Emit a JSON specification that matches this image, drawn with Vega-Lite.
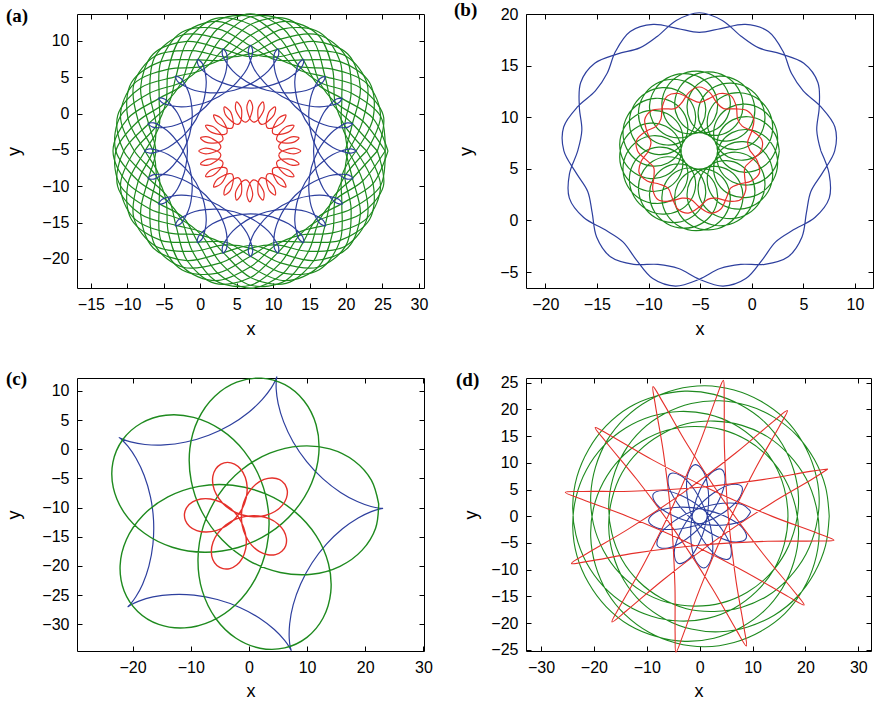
{
  "$schema": "https://vega.github.io/schema/vega-lite/v6.json",
  "padding": {"left": 5, "top": 0, "right": 0, "bottom": 0},
  "background": "white",
  "config": {
    "view": {"stroke": "black", "strokeWidth": 1},
    "axis": {"grid": false, "domain": false, "ticks": true, "tickColor": "black", "tickSize": 5, "tickWidth": 1, "offset": -5,
      "labelFont": "Liberation Sans Narrow, Liberation Sans, sans-serif", "labelFontSize": 16, "labelColor": "black", "labelPadding": 8, "labelFlush": false, "labelOverlap": false,
      "titleFont": "Liberation Sans", "titleFontSize": 18, "titleFontWeight": "normal", "titleColor": "black", "titleBaseline": "alphabetic"},
    "line": {"strokeWidth": 1.2, "interpolate": "catmull-rom", "clip": true},
    "title": {"font": "Liberation Serif", "fontSize": 19, "fontWeight": "bold", "anchor": "start", "frame": "group", "color": "black", "offset": 0, "baseline": "alphabetic"}
  },
  "datasets": {
    "ag": [{"c":0,"x":25.76,"y":-5.15},{"c":0,"x":23.71,"y":-0.65},{"c":0,"x":19.43,"y":2.09},{"c":0,"x":16.09,"y":4.04},{"c":0,"x":14.14,"y":7.38},{"c":0,"x":11.4,"y":11.66},{"c":0,"x":6.9,"y":13.71},{"c":0,"x":2.4,"y":11.66},{"c":0,"x":-0.34,"y":7.38},{"c":0,"x":-2.29,"y":4.04},{"c":0,"x":-5.63,"y":2.09},{"c":0,"x":-9.91,"y":-0.65},{"c":0,"x":-11.96,"y":-5.15},{"c":0,"x":-9.91,"y":-9.65},{"c":0,"x":-5.63,"y":-12.39},{"c":0,"x":-2.29,"y":-14.34},{"c":0,"x":-0.34,"y":-17.68},{"c":0,"x":2.4,"y":-21.96},{"c":0,"x":6.9,"y":-24.01},{"c":0,"x":11.4,"y":-21.96},{"c":0,"x":14.14,"y":-17.68},{"c":0,"x":16.09,"y":-14.34},{"c":0,"x":19.43,"y":-12.39},{"c":0,"x":23.71,"y":-9.65},{"c":0,"x":25.76,"y":-5.15},
      {"c":1,"x":24.3,"y":-5.15},{"c":1,"x":20.88,"y":-1.4},{"c":1,"x":18.16,"y":1.35},{"c":1,"x":17.13,"y":5.08},{"c":1,"x":15.6,"y":9.92},{"c":1,"x":11.78,"y":13.07},{"c":1,"x":6.9,"y":12.25},{"c":1,"x":3.16,"y":8.83},{"c":1,"x":0.4,"y":6.11},{"c":1,"x":-3.33,"y":5.08},{"c":1,"x":-8.17,"y":3.55},{"c":1,"x":-11.32,"y":-0.27},{"c":1,"x":-10.5,"y":-5.15},{"c":1,"x":-7.08,"y":-8.9},{"c":1,"x":-4.36,"y":-11.65},{"c":1,"x":-3.33,"y":-15.38},{"c":1,"x":-1.8,"y":-20.22},{"c":1,"x":2.02,"y":-23.37},{"c":1,"x":6.9,"y":-22.55},{"c":1,"x":10.65,"y":-19.13},{"c":1,"x":13.4,"y":-16.41},{"c":1,"x":17.13,"y":-15.38},{"c":1,"x":21.97,"y":-13.85},{"c":1,"x":25.12,"y":-10.03},{"c":1,"x":24.3,"y":-5.15},
      {"c":2,"x":21.37,"y":-5.15},{"c":2,"x":19.46,"y":-1.79},{"c":2,"x":19.43,"y":2.09},{"c":2,"x":19.2,"y":7.15},{"c":2,"x":16.33,"y":11.18},{"c":2,"x":11.4,"y":11.66},{"c":2,"x":6.9,"y":9.32},{"c":2,"x":3.54,"y":7.41},{"c":2,"x":-0.34,"y":7.38},{"c":2,"x":-5.4,"y":7.15},{"c":2,"x":-9.43,"y":4.28},{"c":2,"x":-9.91,"y":-0.65},{"c":2,"x":-7.57,"y":-5.15},{"c":2,"x":-5.66,"y":-8.51},{"c":2,"x":-5.63,"y":-12.39},{"c":2,"x":-5.4,"y":-17.45},{"c":2,"x":-2.53,"y":-21.48},{"c":2,"x":2.4,"y":-21.96},{"c":2,"x":6.9,"y":-19.62},{"c":2,"x":10.26,"y":-17.71},{"c":2,"x":14.14,"y":-17.68},{"c":2,"x":19.2,"y":-17.45},{"c":2,"x":23.23,"y":-14.58},{"c":2,"x":23.71,"y":-9.65},{"c":2,"x":21.37,"y":-5.15},
      {"c":3,"x":19.9,"y":-5.15},{"c":3,"x":20.88,"y":-1.4},{"c":3,"x":21.97,"y":3.55},{"c":3,"x":20.24,"y":8.19},{"c":3,"x":15.6,"y":9.92},{"c":3,"x":10.65,"y":8.83},{"c":3,"x":6.9,"y":7.85},{"c":3,"x":3.16,"y":8.83},{"c":3,"x":-1.8,"y":9.92},{"c":3,"x":-6.44,"y":8.19},{"c":3,"x":-8.17,"y":3.55},{"c":3,"x":-7.08,"y":-1.4},{"c":3,"x":-6.1,"y":-5.15},{"c":3,"x":-7.08,"y":-8.9},{"c":3,"x":-8.17,"y":-13.85},{"c":3,"x":-6.44,"y":-18.49},{"c":3,"x":-1.8,"y":-20.22},{"c":3,"x":3.16,"y":-19.13},{"c":3,"x":6.9,"y":-18.15},{"c":3,"x":10.65,"y":-19.13},{"c":3,"x":15.6,"y":-20.22},{"c":3,"x":20.24,"y":-18.49},{"c":3,"x":21.97,"y":-13.85},{"c":3,"x":20.88,"y":-8.9},{"c":3,"x":19.9,"y":-5.15},
      {"c":4,"x":21.37,"y":-5.15},{"c":4,"x":23.71,"y":-0.65},{"c":4,"x":23.23,"y":4.28},{"c":4,"x":19.2,"y":7.15},{"c":4,"x":14.14,"y":7.38},{"c":4,"x":10.26,"y":7.41},{"c":4,"x":6.9,"y":9.32},{"c":4,"x":2.4,"y":11.66},{"c":4,"x":-2.53,"y":11.18},{"c":4,"x":-5.4,"y":7.15},{"c":4,"x":-5.63,"y":2.09},{"c":4,"x":-5.66,"y":-1.79},{"c":4,"x":-7.57,"y":-5.15},{"c":4,"x":-9.91,"y":-9.65},{"c":4,"x":-9.43,"y":-14.58},{"c":4,"x":-5.4,"y":-17.45},{"c":4,"x":-0.34,"y":-17.68},{"c":4,"x":3.54,"y":-17.71},{"c":4,"x":6.9,"y":-19.62},{"c":4,"x":11.4,"y":-21.96},{"c":4,"x":16.33,"y":-21.48},{"c":4,"x":19.2,"y":-17.45},{"c":4,"x":19.43,"y":-12.39},{"c":4,"x":19.46,"y":-8.51},{"c":4,"x":21.37,"y":-5.15},
      {"c":5,"x":24.3,"y":-5.15},{"c":5,"x":25.12,"y":-0.27},{"c":5,"x":21.97,"y":3.55},{"c":5,"x":17.13,"y":5.08},{"c":5,"x":13.4,"y":6.11},{"c":5,"x":10.65,"y":8.83},{"c":5,"x":6.9,"y":12.25},{"c":5,"x":2.02,"y":13.07},{"c":5,"x":-1.8,"y":9.92},{"c":5,"x":-3.33,"y":5.08},{"c":5,"x":-4.36,"y":1.35},{"c":5,"x":-7.08,"y":-1.4},{"c":5,"x":-10.5,"y":-5.15},{"c":5,"x":-11.32,"y":-10.03},{"c":5,"x":-8.17,"y":-13.85},{"c":5,"x":-3.33,"y":-15.38},{"c":5,"x":0.4,"y":-16.41},{"c":5,"x":3.16,"y":-19.13},{"c":5,"x":6.9,"y":-22.55},{"c":5,"x":11.78,"y":-23.37},{"c":5,"x":15.6,"y":-20.22},{"c":5,"x":17.13,"y":-15.38},{"c":5,"x":18.16,"y":-11.65},{"c":5,"x":20.88,"y":-8.9},{"c":5,"x":24.3,"y":-5.15},
      {"c":6,"x":25.37,"y":-5.15},{"c":6,"x":22.29,"y":-1.03},{"c":6,"x":18.5,"y":1.55},{"c":6,"x":16.37,"y":4.32},{"c":6,"x":14.87,"y":8.65},{"c":6,"x":11.68,"y":12.69},{"c":6,"x":6.9,"y":13.32},{"c":6,"x":2.78,"y":10.24},{"c":6,"x":0.21,"y":6.45},{"c":6,"x":-2.57,"y":4.32},{"c":6,"x":-6.9,"y":2.82},{"c":6,"x":-10.94,"y":-0.37},{"c":6,"x":-11.57,"y":-5.15},{"c":6,"x":-8.49,"y":-9.27},{"c":6,"x":-4.7,"y":-11.85},{"c":6,"x":-2.57,"y":-14.62},{"c":6,"x":-1.07,"y":-18.95},{"c":6,"x":2.12,"y":-22.99},{"c":6,"x":6.9,"y":-23.62},{"c":6,"x":11.02,"y":-20.54},{"c":6,"x":13.6,"y":-16.75},{"c":6,"x":16.37,"y":-14.62},{"c":6,"x":20.7,"y":-13.12},{"c":6,"x":24.74,"y":-9.93},{"c":6,"x":25.37,"y":-5.15},
      {"c":7,"x":22.83,"y":-5.15},{"c":7,"x":19.83,"y":-1.69},{"c":7,"x":18.5,"y":1.55},{"c":7,"x":18.16,"y":6.11},{"c":7,"x":16.14,"y":10.85},{"c":7,"x":11.68,"y":12.69},{"c":7,"x":6.9,"y":10.78},{"c":7,"x":3.44,"y":7.78},{"c":7,"x":0.21,"y":6.45},{"c":7,"x":-4.36,"y":6.11},{"c":7,"x":-9.1,"y":4.09},{"c":7,"x":-10.94,"y":-0.37},{"c":7,"x":-9.03,"y":-5.15},{"c":7,"x":-6.03,"y":-8.61},{"c":7,"x":-4.7,"y":-11.85},{"c":7,"x":-4.36,"y":-16.41},{"c":7,"x":-2.34,"y":-21.15},{"c":7,"x":2.12,"y":-22.99},{"c":7,"x":6.9,"y":-21.08},{"c":7,"x":10.37,"y":-18.08},{"c":7,"x":13.6,"y":-16.75},{"c":7,"x":18.16,"y":-16.41},{"c":7,"x":22.9,"y":-14.39},{"c":7,"x":24.74,"y":-9.93},{"c":7,"x":22.83,"y":-5.15},
      {"c":8,"x":20.29,"y":-5.15},{"c":8,"x":19.83,"y":-1.69},{"c":8,"x":20.7,"y":2.82},{"c":8,"x":19.96,"y":7.91},{"c":8,"x":16.14,"y":10.85},{"c":8,"x":11.02,"y":10.24},{"c":8,"x":6.9,"y":8.24},{"c":8,"x":3.44,"y":7.78},{"c":8,"x":-1.07,"y":8.65},{"c":8,"x":-6.16,"y":7.91},{"c":8,"x":-9.1,"y":4.09},{"c":8,"x":-8.49,"y":-1.03},{"c":8,"x":-6.49,"y":-5.15},{"c":8,"x":-6.03,"y":-8.61},{"c":8,"x":-6.9,"y":-13.12},{"c":8,"x":-6.16,"y":-18.21},{"c":8,"x":-2.34,"y":-21.15},{"c":8,"x":2.78,"y":-20.54},{"c":8,"x":6.9,"y":-18.54},{"c":8,"x":10.37,"y":-18.08},{"c":8,"x":14.87,"y":-18.95},{"c":8,"x":19.96,"y":-18.21},{"c":8,"x":22.9,"y":-14.39},{"c":8,"x":22.29,"y":-9.27},{"c":8,"x":20.29,"y":-5.15},
      {"c":9,"x":20.29,"y":-5.15},{"c":9,"x":22.29,"y":-1.03},{"c":9,"x":22.9,"y":4.09},{"c":9,"x":19.96,"y":7.91},{"c":9,"x":14.87,"y":8.65},{"c":9,"x":10.37,"y":7.78},{"c":9,"x":6.9,"y":8.24},{"c":9,"x":2.78,"y":10.24},{"c":9,"x":-2.34,"y":10.85},{"c":9,"x":-6.16,"y":7.91},{"c":9,"x":-6.9,"y":2.82},{"c":9,"x":-6.03,"y":-1.69},{"c":9,"x":-6.49,"y":-5.15},{"c":9,"x":-8.49,"y":-9.27},{"c":9,"x":-9.1,"y":-14.39},{"c":9,"x":-6.16,"y":-18.21},{"c":9,"x":-1.07,"y":-18.95},{"c":9,"x":3.44,"y":-18.08},{"c":9,"x":6.9,"y":-18.54},{"c":9,"x":11.02,"y":-20.54},{"c":9,"x":16.14,"y":-21.15},{"c":9,"x":19.96,"y":-18.21},{"c":9,"x":20.7,"y":-13.12},{"c":9,"x":19.83,"y":-8.61},{"c":9,"x":20.29,"y":-5.15},
      {"c":10,"x":22.83,"y":-5.15},{"c":10,"x":24.74,"y":-0.37},{"c":10,"x":22.9,"y":4.09},{"c":10,"x":18.16,"y":6.11},{"c":10,"x":13.6,"y":6.45},{"c":10,"x":10.37,"y":7.78},{"c":10,"x":6.9,"y":10.78},{"c":10,"x":2.12,"y":12.69},{"c":10,"x":-2.34,"y":10.85},{"c":10,"x":-4.36,"y":6.11},{"c":10,"x":-4.7,"y":1.55},{"c":10,"x":-6.03,"y":-1.69},{"c":10,"x":-9.03,"y":-5.15},{"c":10,"x":-10.94,"y":-9.93},{"c":10,"x":-9.1,"y":-14.39},{"c":10,"x":-4.36,"y":-16.41},{"c":10,"x":0.21,"y":-16.75},{"c":10,"x":3.44,"y":-18.08},{"c":10,"x":6.9,"y":-21.08},{"c":10,"x":11.68,"y":-22.99},{"c":10,"x":16.14,"y":-21.15},{"c":10,"x":18.16,"y":-16.41},{"c":10,"x":18.5,"y":-11.85},{"c":10,"x":19.83,"y":-8.61},{"c":10,"x":22.83,"y":-5.15},
      {"c":11,"x":25.37,"y":-5.15},{"c":11,"x":24.74,"y":-0.37},{"c":11,"x":20.7,"y":2.82},{"c":11,"x":16.37,"y":4.32},{"c":11,"x":13.6,"y":6.45},{"c":11,"x":11.02,"y":10.24},{"c":11,"x":6.9,"y":13.32},{"c":11,"x":2.12,"y":12.69},{"c":11,"x":-1.07,"y":8.65},{"c":11,"x":-2.57,"y":4.32},{"c":11,"x":-4.7,"y":1.55},{"c":11,"x":-8.49,"y":-1.03},{"c":11,"x":-11.57,"y":-5.15},{"c":11,"x":-10.94,"y":-9.93},{"c":11,"x":-6.9,"y":-13.12},{"c":11,"x":-2.57,"y":-14.62},{"c":11,"x":0.21,"y":-16.75},{"c":11,"x":2.78,"y":-20.54},{"c":11,"x":6.9,"y":-23.62},{"c":11,"x":11.68,"y":-22.99},{"c":11,"x":14.87,"y":-18.95},{"c":11,"x":16.37,"y":-14.62},{"c":11,"x":18.5,"y":-11.85},{"c":11,"x":22.29,"y":-9.27},{"c":11,"x":25.37,"y":-5.15}],
    "ab": [{"c":0,"x":21.45,"y":-5.15},{"c":0,"x":20.7,"y":-5.45},{"c":0,"x":19.35,"y":-5.15},{"c":0,"x":18.19,"y":-4.66},{"c":0,"x":16.98,"y":-3.82},{"c":0,"x":15.83,"y":-2.76},{"c":0,"x":14.39,"y":-0.83},{"c":0,"x":13.43,"y":1.38},{"c":0,"x":13.09,"y":2.92},{"c":0,"x":12.97,"y":4.38},{"c":0,"x":13.13,"y":5.63},{"c":0,"x":13.54,"y":6.95},
      {"c":0,"x":14.18,"y":7.45},{"c":0,"x":14.06,"y":6.65},{"c":0,"x":13.13,"y":5.63},{"c":0,"x":12.12,"y":4.87},{"c":0,"x":10.79,"y":4.25},{"c":0,"x":9.29,"y":3.78},{"c":0,"x":6.9,"y":3.5},{"c":0,"x":4.51,"y":3.78},{"c":0,"x":3.01,"y":4.25},{"c":0,"x":1.68,"y":4.87},{"c":0,"x":0.68,"y":5.63},{"c":0,"x":-0.26,"y":6.65},
      {"c":0,"x":-0.38,"y":7.45},{"c":0,"x":0.26,"y":6.95},{"c":0,"x":0.68,"y":5.63},{"c":0,"x":0.83,"y":4.38},{"c":0,"x":0.71,"y":2.92},{"c":0,"x":0.37,"y":1.38},{"c":0,"x":-0.59,"y":-0.83},{"c":0,"x":-2.03,"y":-2.76},{"c":0,"x":-3.18,"y":-3.82},{"c":0,"x":-4.39,"y":-4.66},{"c":0,"x":-5.55,"y":-5.15},{"c":0,"x":-6.9,"y":-5.45},
      {"c":0,"x":-7.65,"y":-5.15},{"c":0,"x":-6.9,"y":-4.85},{"c":0,"x":-5.55,"y":-5.15},{"c":0,"x":-4.39,"y":-5.64},{"c":0,"x":-3.18,"y":-6.48},{"c":0,"x":-2.03,"y":-7.54},{"c":0,"x":-0.59,"y":-9.48},{"c":0,"x":0.37,"y":-11.68},{"c":0,"x":0.71,"y":-13.22},{"c":0,"x":0.83,"y":-14.68},{"c":0,"x":0.68,"y":-15.93},{"c":0,"x":0.26,"y":-17.25},
      {"c":0,"x":-0.38,"y":-17.75},{"c":0,"x":-0.26,"y":-16.95},{"c":0,"x":0.68,"y":-15.93},{"c":0,"x":1.68,"y":-15.17},{"c":0,"x":3.01,"y":-14.55},{"c":0,"x":4.51,"y":-14.08},{"c":0,"x":6.9,"y":-13.8},{"c":0,"x":9.29,"y":-14.08},{"c":0,"x":10.79,"y":-14.55},{"c":0,"x":12.12,"y":-15.17},{"c":0,"x":13.13,"y":-15.93},{"c":0,"x":14.06,"y":-16.95},
      {"c":0,"x":14.18,"y":-17.75},{"c":0,"x":13.54,"y":-17.25},{"c":0,"x":13.13,"y":-15.93},{"c":0,"x":12.97,"y":-14.68},{"c":0,"x":13.09,"y":-13.22},{"c":0,"x":13.43,"y":-11.68},{"c":0,"x":14.39,"y":-9.48},{"c":0,"x":15.83,"y":-7.54},{"c":0,"x":16.98,"y":-6.48},{"c":0,"x":18.19,"y":-5.64},{"c":0,"x":19.35,"y":-5.15},{"c":0,"x":20.7,"y":-4.85},{"c":0,"x":21.45,"y":-5.15},
      {"c":1,"x":20.95,"y":-1.38},{"c":1,"x":20.3,"y":-1.87},{"c":1,"x":18.93,"y":-1.93},{"c":1,"x":17.68,"y":-1.75},{"c":1,"x":16.3,"y":-1.26},{"c":1,"x":14.9,"y":-0.53},{"c":1,"x":13.02,"y":0.97},{"c":1,"x":11.52,"y":2.85},{"c":1,"x":10.79,"y":4.25},{"c":1,"x":10.3,"y":5.63},{"c":1,"x":10.12,"y":6.88},{"c":1,"x":10.18,"y":8.25},
      {"c":1,"x":10.67,"y":8.9},{"c":1,"x":10.76,"y":8.1},{"c":1,"x":10.12,"y":6.88},{"c":1,"x":9.35,"y":5.88},{"c":1,"x":8.23,"y":4.93},{"c":1,"x":6.9,"y":4.09},{"c":1,"x":4.66,"y":3.21},{"c":1,"x":2.28,"y":2.85},{"c":1,"x":0.71,"y":2.92},{"c":1,"x":-0.73,"y":3.18},{"c":1,"x":-1.9,"y":3.65},{"c":1,"x":-3.07,"y":4.39},
      {"c":1,"x":-3.39,"y":5.14},{"c":1,"x":-2.64,"y":4.82},{"c":1,"x":-1.9,"y":3.65},{"c":1,"x":-1.43,"y":2.48},{"c":1,"x":-1.17,"y":1.04},{"c":1,"x":-1.1,"y":-0.53},{"c":1,"x":-1.46,"y":-2.91},{"c":1,"x":-2.34,"y":-5.15},{"c":1,"x":-3.18,"y":-6.48},{"c":1,"x":-4.13,"y":-7.6},{"c":1,"x":-5.13,"y":-8.37},{"c":1,"x":-6.35,"y":-9.01},
      {"c":1,"x":-7.15,"y":-8.92},{"c":1,"x":-6.5,"y":-8.43},{"c":1,"x":-5.13,"y":-8.37},{"c":1,"x":-3.88,"y":-8.55},{"c":1,"x":-2.5,"y":-9.04},{"c":1,"x":-1.1,"y":-9.77},{"c":1,"x":0.78,"y":-11.27},{"c":1,"x":2.28,"y":-13.15},{"c":1,"x":3.01,"y":-14.55},{"c":1,"x":3.5,"y":-15.93},{"c":1,"x":3.68,"y":-17.18},{"c":1,"x":3.62,"y":-18.55},
      {"c":1,"x":3.13,"y":-19.2},{"c":1,"x":3.04,"y":-18.4},{"c":1,"x":3.68,"y":-17.18},{"c":1,"x":4.46,"y":-16.18},{"c":1,"x":5.57,"y":-15.23},{"c":1,"x":6.9,"y":-14.39},{"c":1,"x":9.14,"y":-13.51},{"c":1,"x":11.52,"y":-13.15},{"c":1,"x":13.09,"y":-13.22},{"c":1,"x":14.53,"y":-13.48},{"c":1,"x":15.7,"y":-13.95},{"c":1,"x":16.87,"y":-14.69},
      {"c":1,"x":17.19,"y":-15.44},{"c":1,"x":16.44,"y":-15.12},{"c":1,"x":15.7,"y":-13.95},{"c":1,"x":15.23,"y":-12.78},{"c":1,"x":14.97,"y":-11.34},{"c":1,"x":14.9,"y":-9.77},{"c":1,"x":15.26,"y":-7.39},{"c":1,"x":16.14,"y":-5.15},{"c":1,"x":16.98,"y":-3.82},{"c":1,"x":17.93,"y":-2.71},{"c":1,"x":18.93,"y":-1.93},{"c":1,"x":20.15,"y":-1.29},{"c":1,"x":20.95,"y":-1.38},
      {"c":2,"x":19.5,"y":2.13},{"c":2,"x":19.0,"y":1.49},{"c":2,"x":17.68,"y":1.08},{"c":2,"x":16.43,"y":0.92},{"c":2,"x":14.97,"y":1.04},{"c":2,"x":13.43,"y":1.38},{"c":2,"x":11.23,"y":2.34},{"c":2,"x":9.29,"y":3.78},{"c":2,"x":8.23,"y":4.93},{"c":2,"x":7.39,"y":6.14},{"c":2,"x":6.9,"y":7.3},{"c":2,"x":6.6,"y":8.65},
      {"c":2,"x":6.9,"y":9.4},{"c":2,"x":7.2,"y":8.65},{"c":2,"x":6.9,"y":7.3},{"c":2,"x":6.41,"y":6.14},{"c":2,"x":5.57,"y":4.93},{"c":2,"x":4.51,"y":3.78},{"c":2,"x":2.58,"y":2.34},{"c":2,"x":0.37,"y":1.38},{"c":2,"x":-1.17,"y":1.04},{"c":2,"x":-2.63,"y":0.92},{"c":2,"x":-3.88,"y":1.08},{"c":2,"x":-5.2,"y":1.49},
      {"c":2,"x":-5.7,"y":2.13},{"c":2,"x":-4.9,"y":2.01},{"c":2,"x":-3.88,"y":1.08},{"c":2,"x":-3.12,"y":0.07},{"c":2,"x":-2.5,"y":-1.26},{"c":2,"x":-2.03,"y":-2.76},{"c":2,"x":-1.75,"y":-5.15},{"c":2,"x":-2.03,"y":-7.54},{"c":2,"x":-2.5,"y":-9.04},{"c":2,"x":-3.12,"y":-10.37},{"c":2,"x":-3.88,"y":-11.38},{"c":2,"x":-4.9,"y":-12.31},
      {"c":2,"x":-5.7,"y":-12.43},{"c":2,"x":-5.2,"y":-11.79},{"c":2,"x":-3.88,"y":-11.38},{"c":2,"x":-2.63,"y":-11.22},{"c":2,"x":-1.17,"y":-11.34},{"c":2,"x":0.37,"y":-11.68},{"c":2,"x":2.58,"y":-12.64},{"c":2,"x":4.51,"y":-14.08},{"c":2,"x":5.57,"y":-15.23},{"c":2,"x":6.41,"y":-16.44},{"c":2,"x":6.9,"y":-17.6},{"c":2,"x":7.2,"y":-18.95},
      {"c":2,"x":6.9,"y":-19.7},{"c":2,"x":6.6,"y":-18.95},{"c":2,"x":6.9,"y":-17.6},{"c":2,"x":7.39,"y":-16.44},{"c":2,"x":8.23,"y":-15.23},{"c":2,"x":9.29,"y":-14.08},{"c":2,"x":11.23,"y":-12.64},{"c":2,"x":13.43,"y":-11.68},{"c":2,"x":14.97,"y":-11.34},{"c":2,"x":16.43,"y":-11.22},{"c":2,"x":17.68,"y":-11.38},{"c":2,"x":19.0,"y":-11.79},
      {"c":2,"x":19.5,"y":-12.43},{"c":2,"x":18.7,"y":-12.31},{"c":2,"x":17.68,"y":-11.38},{"c":2,"x":16.92,"y":-10.37},{"c":2,"x":16.3,"y":-9.04},{"c":2,"x":15.83,"y":-7.54},{"c":2,"x":15.55,"y":-5.15},{"c":2,"x":15.83,"y":-2.76},{"c":2,"x":16.3,"y":-1.26},{"c":2,"x":16.92,"y":0.07},{"c":2,"x":17.68,"y":1.08},{"c":2,"x":18.7,"y":2.01},{"c":2,"x":19.5,"y":2.13},
      {"c":3,"x":17.19,"y":5.14},{"c":3,"x":16.87,"y":4.39},{"c":3,"x":15.7,"y":3.65},{"c":3,"x":14.53,"y":3.18},{"c":3,"x":13.09,"y":2.92},{"c":3,"x":11.52,"y":2.85},{"c":3,"x":9.14,"y":3.21},{"c":3,"x":6.9,"y":4.09},{"c":3,"x":5.57,"y":4.93},{"c":3,"x":4.46,"y":5.88},{"c":3,"x":3.68,"y":6.88},{"c":3,"x":3.04,"y":8.1},
      {"c":3,"x":3.13,"y":8.9},{"c":3,"x":3.62,"y":8.25},{"c":3,"x":3.68,"y":6.88},{"c":3,"x":3.5,"y":5.63},{"c":3,"x":3.01,"y":4.25},{"c":3,"x":2.28,"y":2.85},{"c":3,"x":0.78,"y":0.97},{"c":3,"x":-1.1,"y":-0.53},{"c":3,"x":-2.5,"y":-1.26},{"c":3,"x":-3.88,"y":-1.75},{"c":3,"x":-5.13,"y":-1.93},{"c":3,"x":-6.5,"y":-1.87},
      {"c":3,"x":-7.15,"y":-1.38},{"c":3,"x":-6.35,"y":-1.29},{"c":3,"x":-5.13,"y":-1.93},{"c":3,"x":-4.13,"y":-2.71},{"c":3,"x":-3.18,"y":-3.82},{"c":3,"x":-2.34,"y":-5.15},{"c":3,"x":-1.46,"y":-7.39},{"c":3,"x":-1.1,"y":-9.77},{"c":3,"x":-1.17,"y":-11.34},{"c":3,"x":-1.43,"y":-12.78},{"c":3,"x":-1.9,"y":-13.95},{"c":3,"x":-2.64,"y":-15.12},
      {"c":3,"x":-3.39,"y":-15.44},{"c":3,"x":-3.07,"y":-14.69},{"c":3,"x":-1.9,"y":-13.95},{"c":3,"x":-0.73,"y":-13.48},{"c":3,"x":0.71,"y":-13.22},{"c":3,"x":2.28,"y":-13.15},{"c":3,"x":4.66,"y":-13.51},{"c":3,"x":6.9,"y":-14.39},{"c":3,"x":8.23,"y":-15.23},{"c":3,"x":9.35,"y":-16.18},{"c":3,"x":10.12,"y":-17.18},{"c":3,"x":10.76,"y":-18.4},
      {"c":3,"x":10.67,"y":-19.2},{"c":3,"x":10.18,"y":-18.55},{"c":3,"x":10.12,"y":-17.18},{"c":3,"x":10.3,"y":-15.93},{"c":3,"x":10.79,"y":-14.55},{"c":3,"x":11.52,"y":-13.15},{"c":3,"x":13.02,"y":-11.27},{"c":3,"x":14.9,"y":-9.77},{"c":3,"x":16.3,"y":-9.04},{"c":3,"x":17.68,"y":-8.55},{"c":3,"x":18.93,"y":-8.37},{"c":3,"x":20.3,"y":-8.43},
      {"c":3,"x":20.95,"y":-8.92},{"c":3,"x":20.15,"y":-9.01},{"c":3,"x":18.93,"y":-8.37},{"c":3,"x":17.93,"y":-7.6},{"c":3,"x":16.98,"y":-6.48},{"c":3,"x":16.14,"y":-5.15},{"c":3,"x":15.26,"y":-2.91},{"c":3,"x":14.9,"y":-0.53},{"c":3,"x":14.97,"y":1.04},{"c":3,"x":15.23,"y":2.48},{"c":3,"x":15.7,"y":3.65},{"c":3,"x":16.44,"y":4.82},{"c":3,"x":17.19,"y":5.14}],
    "ar": [{"x":10.77,"y":-5.67},{"x":11.0,"y":-5.33},{"x":11.55,"y":-5.05},{"x":12.86,"y":-4.75},{"x":13.8,"y":-5.15},{"x":12.86,"y":-5.55},{"x":11.55,"y":-5.25},{"x":11.0,"y":-4.97},
      {"x":10.77,"y":-4.63},{"x":10.9,"y":-4.24},{"x":11.36,"y":-3.82},{"x":12.55,"y":-3.2},{"x":13.56,"y":-3.34},{"x":12.75,"y":-3.97},{"x":11.41,"y":-4.02},{"x":10.81,"y":-3.89},
      {"x":10.5,"y":-3.62},{"x":10.53,"y":-3.21},{"x":10.86,"y":-2.69},{"x":11.85,"y":-1.78},{"x":12.86,"y":-1.65},{"x":12.24,"y":-2.47},{"x":10.96,"y":-2.87},{"x":10.34,"y":-2.89},
      {"x":9.97,"y":-2.72},{"x":9.9,"y":-2.31},{"x":10.09,"y":-1.72},{"x":10.8,"y":-0.59},{"x":11.75,"y":-0.2},{"x":11.36,"y":-1.15},{"x":10.23,"y":-1.87},{"x":9.64,"y":-2.05},
      {"x":9.24,"y":-1.98},{"x":9.06,"y":-1.61},{"x":9.09,"y":-0.99},{"x":9.49,"y":0.29},{"x":10.3,"y":0.91},{"x":10.17,"y":-0.1},{"x":9.26,"y":-1.09},{"x":8.74,"y":-1.43},
      {"x":8.33,"y":-1.45},{"x":8.06,"y":-1.14},{"x":7.93,"y":-0.54},{"x":7.98,"y":0.8},{"x":8.61,"y":1.61},{"x":8.75,"y":0.6},{"x":8.13,"y":-0.59},{"x":7.71,"y":-1.05},
      {"x":7.32,"y":-1.18},{"x":6.98,"y":-0.95},{"x":6.7,"y":-0.4},{"x":6.4,"y":0.91},{"x":6.8,"y":1.85},{"x":7.2,"y":0.91},{"x":6.9,"y":-0.4},{"x":6.62,"y":-0.95},
      {"x":6.28,"y":-1.18},{"x":5.89,"y":-1.05},{"x":5.47,"y":-0.59},{"x":4.85,"y":0.6},{"x":4.99,"y":1.61},{"x":5.62,"y":0.8},{"x":5.67,"y":-0.54},{"x":5.54,"y":-1.14},
      {"x":5.27,"y":-1.45},{"x":4.86,"y":-1.43},{"x":4.34,"y":-1.09},{"x":3.43,"y":-0.1},{"x":3.3,"y":0.91},{"x":4.12,"y":0.29},{"x":4.52,"y":-0.99},{"x":4.54,"y":-1.61},
      {"x":4.37,"y":-1.98},{"x":3.96,"y":-2.05},{"x":3.37,"y":-1.87},{"x":2.24,"y":-1.15},{"x":1.85,"y":-0.2},{"x":2.8,"y":-0.59},{"x":3.52,"y":-1.72},{"x":3.7,"y":-2.31},
      {"x":3.63,"y":-2.72},{"x":3.26,"y":-2.89},{"x":2.64,"y":-2.87},{"x":1.36,"y":-2.47},{"x":0.74,"y":-1.65},{"x":1.75,"y":-1.78},{"x":2.74,"y":-2.69},{"x":3.08,"y":-3.21},
      {"x":3.1,"y":-3.62},{"x":2.79,"y":-3.89},{"x":2.19,"y":-4.02},{"x":0.85,"y":-3.97},{"x":0.04,"y":-3.34},{"x":1.05,"y":-3.2},{"x":2.24,"y":-3.82},{"x":2.7,"y":-4.24},
      {"x":2.83,"y":-4.63},{"x":2.6,"y":-4.97},{"x":2.05,"y":-5.25},{"x":0.74,"y":-5.55},{"x":-0.2,"y":-5.15},{"x":0.74,"y":-4.75},{"x":2.05,"y":-5.05},{"x":2.6,"y":-5.33},
      {"x":2.83,"y":-5.67},{"x":2.7,"y":-6.06},{"x":2.24,"y":-6.48},{"x":1.05,"y":-7.1},{"x":0.04,"y":-6.96},{"x":0.85,"y":-6.33},{"x":2.19,"y":-6.28},{"x":2.79,"y":-6.41},
      {"x":3.1,"y":-6.68},{"x":3.08,"y":-7.09},{"x":2.74,"y":-7.61},{"x":1.75,"y":-8.52},{"x":0.74,"y":-8.65},{"x":1.36,"y":-7.84},{"x":2.64,"y":-7.44},{"x":3.26,"y":-7.41},
      {"x":3.63,"y":-7.59},{"x":3.7,"y":-7.99},{"x":3.52,"y":-8.58},{"x":2.8,"y":-9.71},{"x":1.85,"y":-10.1},{"x":2.24,"y":-9.15},{"x":3.37,"y":-8.44},{"x":3.96,"y":-8.25},
      {"x":4.37,"y":-8.32},{"x":4.54,"y":-8.69},{"x":4.52,"y":-9.31},{"x":4.12,"y":-10.59},{"x":3.3,"y":-11.21},{"x":3.43,"y":-10.2},{"x":4.34,"y":-9.21},{"x":4.86,"y":-8.88},
      {"x":5.27,"y":-8.85},{"x":5.54,"y":-9.16},{"x":5.67,"y":-9.76},{"x":5.62,"y":-11.1},{"x":4.99,"y":-11.91},{"x":4.85,"y":-10.9},{"x":5.47,"y":-9.71},{"x":5.89,"y":-9.25},
      {"x":6.28,"y":-9.12},{"x":6.62,"y":-9.35},{"x":6.9,"y":-9.9},{"x":7.2,"y":-11.21},{"x":6.8,"y":-12.15},{"x":6.4,"y":-11.21},{"x":6.7,"y":-9.9},{"x":6.98,"y":-9.35},
      {"x":7.32,"y":-9.12},{"x":7.71,"y":-9.25},{"x":8.13,"y":-9.71},{"x":8.75,"y":-10.9},{"x":8.61,"y":-11.91},{"x":7.98,"y":-11.1},{"x":7.93,"y":-9.76},{"x":8.06,"y":-9.16},
      {"x":8.33,"y":-8.85},{"x":8.74,"y":-8.88},{"x":9.26,"y":-9.21},{"x":10.17,"y":-10.2},{"x":10.3,"y":-11.21},{"x":9.49,"y":-10.59},{"x":9.09,"y":-9.31},{"x":9.06,"y":-8.69},
      {"x":9.24,"y":-8.32},{"x":9.64,"y":-8.25},{"x":10.23,"y":-8.44},{"x":11.36,"y":-9.15},{"x":11.75,"y":-10.1},{"x":10.8,"y":-9.71},{"x":10.09,"y":-8.58},{"x":9.9,"y":-7.99},
      {"x":9.97,"y":-7.59},{"x":10.34,"y":-7.41},{"x":10.96,"y":-7.44},{"x":12.24,"y":-7.84},{"x":12.86,"y":-8.65},{"x":11.85,"y":-8.52},{"x":10.86,"y":-7.61},{"x":10.53,"y":-7.09},
      {"x":10.5,"y":-6.68},{"x":10.81,"y":-6.41},{"x":11.41,"y":-6.28},{"x":12.75,"y":-6.33},{"x":13.56,"y":-6.96},{"x":12.55,"y":-7.1},{"x":11.36,"y":-6.48},{"x":10.9,"y":-6.06},
      {"x":10.77,"y":-5.67}],
    "bb": [{"x":6.7,"y":6.75},{"x":6.3,"y":8.76},{"x":6.54,"y":10.98},{"x":6.41,"y":13.39},{"x":5.05,"y":15.25},{"x":2.82,"y":16.16},{"x":0.69,"y":16.74},{"x":-1.03,"y":17.88},{"x":-2.85,"y":19.4},{"x":-5.08,"y":20.15},{"x":-7.31,"y":19.4},{"x":-9.13,"y":17.88},{"x":-10.85,"y":16.74},{"x":-12.98,"y":16.16},{"x":-15.21,"y":15.25},{"x":-16.57,"y":13.39},{"x":-16.7,"y":10.98},{"x":-16.46,"y":8.76},{"x":-16.86,"y":6.75},{"x":-17.66,"y":4.53},{"x":-17.67,"y":2.17},{"x":-16.28,"y":0.29},{"x":-14.2,"y":-0.91},{"x":-12.48,"y":-2.07},{"x":-11.18,"y":-3.82},{"x":-9.59,"y":-5.64},{"x":-7.39,"y":-6.36},{"x":-5.08,"y":-5.7},{"x":-3.07,"y":-4.66},{"x":-1.07,"y":-4.26},{"x":1.27,"y":-4.25},{"x":3.53,"y":-3.51},{"x":4.87,"y":-1.6},{"x":5.3,"y":0.76},{"x":5.73,"y":2.82},{"x":6.87,"y":4.64},
      {"x":8.04,"y":6.75},{"x":8.06,"y":9.07},{"x":6.69,"y":11.04},{"x":4.99,"y":12.57},{"x":3.86,"y":14.25},{"x":3.03,"y":16.41},{"x":1.61,"y":18.33},{"x":-0.61,"y":19.02},{"x":-2.99,"y":18.62},{"x":-5.08,"y":18.25},{"x":-7.17,"y":18.62},{"x":-9.55,"y":19.02},{"x":-11.77,"y":18.33},{"x":-13.19,"y":16.41},{"x":-14.02,"y":14.25},{"x":-15.15,"y":12.57},{"x":-16.86,"y":11.04},{"x":-18.22,"y":9.07},{"x":-18.2,"y":6.75},{"x":-17.03,"y":4.64},{"x":-15.89,"y":2.82},{"x":-15.46,"y":0.76},{"x":-15.03,"y":-1.6},{"x":-13.69,"y":-3.51},{"x":-11.43,"y":-4.25},{"x":-9.09,"y":-4.26},{"x":-7.09,"y":-4.66},{"x":-5.08,"y":-5.7},{"x":-2.77,"y":-6.36},{"x":-0.57,"y":-5.64},{"x":1.02,"y":-3.82},{"x":2.32,"y":-2.07},{"x":4.04,"y":-0.91},{"x":6.12,"y":0.29},{"x":7.51,"y":2.17},{"x":7.5,"y":4.53},{"x":6.7,"y":6.75}],
    "bg": [{"x":2.67,"y":6.75},{"x":2.27,"y":8.35},{"x":1.17,"y":9.56},{"x":-0.34,"y":10.06},{"x":-1.85,"y":9.76},{"x":-2.96,"y":8.77},{"x":-3.37,"y":7.37},{"x":-2.98,"y":5.97},{"x":-1.9,"y":4.98},{"x":-0.42,"y":4.68},{"x":1.06,"y":5.18},{"x":2.13,"y":6.38},
      {"x":2.51,"y":7.98},{"x":2.08,"y":9.58},{"x":0.95,"y":10.78},{"x":-0.58,"y":11.28},{"x":-2.12,"y":10.97},{"x":-3.25,"y":9.97},{"x":-3.69,"y":8.57},{"x":-3.33,"y":7.16},{"x":-2.28,"y":6.16},{"x":-0.82,"y":5.85},{"x":0.63,"y":6.35},{"x":1.68,"y":7.54},
      {"x":2.03,"y":9.13},{"x":1.58,"y":10.71},{"x":0.43,"y":11.9},{"x":-1.13,"y":12.39},{"x":-2.69,"y":12.07},{"x":-3.85,"y":11.06},{"x":-4.31,"y":9.64},{"x":-3.97,"y":8.22},{"x":-2.94,"y":7.21},{"x":-1.51,"y":6.88},{"x":-0.08,"y":7.36},{"x":0.95,"y":8.54},
      {"x":1.28,"y":10.11},{"x":0.8,"y":11.68},{"x":-0.37,"y":12.85},{"x":-1.95,"y":13.32},{"x":-3.53,"y":12.99},{"x":-4.71,"y":11.96},{"x":-5.19,"y":10.52},{"x":-4.87,"y":9.08},{"x":-3.86,"y":8.04},{"x":-2.44,"y":7.7},{"x":-1.03,"y":8.16},{"x":-0.02,"y":9.31},
      {"x":0.3,"y":10.86},{"x":-0.2,"y":12.42},{"x":-1.39,"y":13.56},{"x":-2.98,"y":14.01},{"x":-4.57,"y":13.65},{"x":-5.77,"y":12.6},{"x":-6.26,"y":11.14},{"x":-5.96,"y":9.68},{"x":-4.96,"y":8.62},{"x":-3.55,"y":8.25},{"x":-2.15,"y":8.68},{"x":-1.15,"y":9.81},
      {"x":-0.85,"y":11.34},{"x":-1.35,"y":12.86},{"x":-2.55,"y":13.99},{"x":-4.15,"y":14.41},{"x":-5.76,"y":14.03},{"x":-6.96,"y":12.95},{"x":-7.46,"y":11.46},{"x":-7.16,"y":9.97},{"x":-6.17,"y":8.88},{"x":-4.77,"y":8.49},{"x":-3.37,"y":8.9},{"x":-2.38,"y":10.0},
      {"x":-2.08,"y":11.5},{"x":-2.59,"y":13.0},{"x":-3.79,"y":14.09},{"x":-5.39,"y":14.49},{"x":-6.99,"y":14.08},{"x":-8.2,"y":12.97},{"x":-8.7,"y":11.46},{"x":-8.4,"y":9.95},{"x":-7.41,"y":8.83},{"x":-6.01,"y":8.41},{"x":-4.61,"y":8.79},{"x":-3.61,"y":9.86},
      {"x":-3.31,"y":11.34},{"x":-3.81,"y":12.81},{"x":-5.01,"y":13.88},{"x":-6.61,"y":14.25},{"x":-8.21,"y":13.81},{"x":-9.4,"y":12.68},{"x":-9.9,"y":11.14},{"x":-9.59,"y":9.6},{"x":-8.59,"y":8.46},{"x":-7.18,"y":8.01},{"x":-5.77,"y":8.37},{"x":-4.77,"y":9.42},
      {"x":-4.46,"y":10.86},{"x":-4.95,"y":12.31},{"x":-6.13,"y":13.35},{"x":-7.72,"y":13.7},{"x":-9.31,"y":13.24},{"x":-10.49,"y":12.08},{"x":-10.97,"y":10.52},{"x":-10.65,"y":8.96},{"x":-9.63,"y":7.79},{"x":-8.21,"y":7.32},{"x":-6.79,"y":7.65},{"x":-5.77,"y":8.68},
      {"x":-5.44,"y":10.11},{"x":-5.91,"y":11.54},{"x":-7.08,"y":12.56},{"x":-8.65,"y":12.88},{"x":-10.22,"y":12.4},{"x":-11.38,"y":11.22},{"x":-11.85,"y":9.64},{"x":-11.51,"y":8.06},{"x":-10.47,"y":6.88},{"x":-9.03,"y":6.39},{"x":-7.59,"y":6.7},{"x":-6.54,"y":7.71},
      {"x":-6.19,"y":9.13},{"x":-6.65,"y":10.54},{"x":-7.79,"y":11.54},{"x":-9.34,"y":11.85},{"x":-10.89,"y":11.36},{"x":-12.03,"y":10.16},{"x":-12.47,"y":8.57},{"x":-12.11,"y":6.97},{"x":-11.04,"y":5.78},{"x":-9.58,"y":5.28},{"x":-8.11,"y":5.58},{"x":-7.04,"y":6.58},
      {"x":-6.67,"y":7.98},{"x":-7.1,"y":9.38},{"x":-8.22,"y":10.38},{"x":-9.74,"y":10.68},{"x":-11.26,"y":10.17},{"x":-12.37,"y":8.97},{"x":-12.79,"y":7.37},{"x":-12.4,"y":5.77},{"x":-11.31,"y":4.57},{"x":-9.82,"y":4.06},{"x":-8.33,"y":4.36},{"x":-7.23,"y":5.35},
      {"x":-6.83,"y":6.75},{"x":-7.23,"y":8.15},{"x":-8.33,"y":9.14},{"x":-9.82,"y":9.44},{"x":-11.31,"y":8.93},{"x":-12.4,"y":7.73},{"x":-12.79,"y":6.13},{"x":-12.37,"y":4.53},{"x":-11.26,"y":3.33},{"x":-9.74,"y":2.82},{"x":-8.22,"y":3.12},{"x":-7.1,"y":4.12},
      {"x":-6.67,"y":5.52},{"x":-7.04,"y":6.92},{"x":-8.11,"y":7.92},{"x":-9.58,"y":8.22},{"x":-11.04,"y":7.72},{"x":-12.11,"y":6.53},{"x":-12.47,"y":4.93},{"x":-12.03,"y":3.34},{"x":-10.89,"y":2.14},{"x":-9.34,"y":1.65},{"x":-7.79,"y":1.96},{"x":-6.65,"y":2.96},
      {"x":-6.19,"y":4.37},{"x":-6.54,"y":5.79},{"x":-7.59,"y":6.8},{"x":-9.03,"y":7.11},{"x":-10.47,"y":6.62},{"x":-11.51,"y":5.44},{"x":-11.85,"y":3.86},{"x":-11.38,"y":2.28},{"x":-10.22,"y":1.1},{"x":-8.65,"y":0.62},{"x":-7.08,"y":0.94},{"x":-5.91,"y":1.96},
      {"x":-5.44,"y":3.39},{"x":-5.77,"y":4.82},{"x":-6.79,"y":5.85},{"x":-8.21,"y":6.18},{"x":-9.63,"y":5.71},{"x":-10.65,"y":4.54},{"x":-10.97,"y":2.98},{"x":-10.49,"y":1.42},{"x":-9.31,"y":0.26},{"x":-7.72,"y":-0.2},{"x":-6.13,"y":0.15},{"x":-4.95,"y":1.19},
      {"x":-4.46,"y":2.64},{"x":-4.77,"y":4.08},{"x":-5.77,"y":5.13},{"x":-7.18,"y":5.49},{"x":-8.59,"y":5.04},{"x":-9.59,"y":3.9},{"x":-9.9,"y":2.36},{"x":-9.4,"y":0.82},{"x":-8.21,"y":-0.31},{"x":-6.61,"y":-0.75},{"x":-5.01,"y":-0.38},{"x":-3.81,"y":0.69},
      {"x":-3.31,"y":2.16},{"x":-3.61,"y":3.64},{"x":-4.61,"y":4.71},{"x":-6.01,"y":5.09},{"x":-7.41,"y":4.67},{"x":-8.4,"y":3.55},{"x":-8.7,"y":2.04},{"x":-8.2,"y":0.53},{"x":-6.99,"y":-0.58},{"x":-5.39,"y":-0.99},{"x":-3.79,"y":-0.59},{"x":-2.59,"y":0.5},
      {"x":-2.08,"y":2.0},{"x":-2.38,"y":3.5},{"x":-3.37,"y":4.6},{"x":-4.77,"y":5.01},{"x":-6.17,"y":4.62},{"x":-7.16,"y":3.53},{"x":-7.46,"y":2.04},{"x":-6.96,"y":0.55},{"x":-5.76,"y":-0.53},{"x":-4.15,"y":-0.91},{"x":-2.55,"y":-0.49},{"x":-1.35,"y":0.64},
      {"x":-0.85,"y":2.16},{"x":-1.15,"y":3.69},{"x":-2.15,"y":4.82},{"x":-3.55,"y":5.25},{"x":-4.96,"y":4.88},{"x":-5.96,"y":3.82},{"x":-6.26,"y":2.36},{"x":-5.77,"y":0.9},{"x":-4.57,"y":-0.15},{"x":-2.98,"y":-0.51},{"x":-1.39,"y":-0.06},{"x":-0.2,"y":1.08},
      {"x":0.3,"y":2.64},{"x":-0.02,"y":4.19},{"x":-1.03,"y":5.34},{"x":-2.44,"y":5.8},{"x":-3.86,"y":5.46},{"x":-4.87,"y":4.42},{"x":-5.19,"y":2.98},{"x":-4.71,"y":1.54},{"x":-3.53,"y":0.51},{"x":-1.95,"y":0.18},{"x":-0.37,"y":0.65},{"x":0.8,"y":1.82},
      {"x":1.28,"y":3.39},{"x":0.95,"y":4.96},{"x":-0.08,"y":6.14},{"x":-1.51,"y":6.62},{"x":-2.94,"y":6.29},{"x":-3.97,"y":5.28},{"x":-4.31,"y":3.86},{"x":-3.85,"y":2.44},{"x":-2.69,"y":1.43},{"x":-1.13,"y":1.11},{"x":0.43,"y":1.6},{"x":1.58,"y":2.79},
      {"x":2.03,"y":4.37},{"x":1.68,"y":5.96},{"x":0.63,"y":7.15},{"x":-0.82,"y":7.65},{"x":-2.28,"y":7.34},{"x":-3.33,"y":6.34},{"x":-3.69,"y":4.93},{"x":-3.25,"y":3.53},{"x":-2.12,"y":2.53},{"x":-0.58,"y":2.22},{"x":0.95,"y":2.72},{"x":2.08,"y":3.92},
      {"x":2.51,"y":5.52},{"x":2.13,"y":7.12},{"x":1.06,"y":8.32},{"x":-0.42,"y":8.82},{"x":-1.9,"y":8.52},{"x":-2.98,"y":7.53},{"x":-3.37,"y":6.13},{"x":-2.96,"y":4.73},{"x":-1.85,"y":3.74},{"x":-0.34,"y":3.44},{"x":1.17,"y":3.94},{"x":2.27,"y":5.15},
      {"x":2.67,"y":6.75}],
    "br": [{"x":-0.16,"y":6.75},{"x":-0.4,"y":7.57},{"x":-0.02,"y":8.59},{"x":0.2,"y":9.8},{"x":-0.44,"y":10.65},{"x":-1.66,"y":10.83},{"x":-2.72,"y":10.85},{"x":-3.38,"y":11.42},{"x":-4.08,"y":12.43},{"x":-5.08,"y":12.95},{"x":-6.08,"y":12.43},{"x":-6.78,"y":11.42},{"x":-7.44,"y":10.85},{"x":-8.5,"y":10.83},{"x":-9.72,"y":10.65},{"x":-10.36,"y":9.8},{"x":-10.14,"y":8.59},{"x":-9.76,"y":7.57},{"x":-10.0,"y":6.75},{"x":-10.7,"y":5.76},{"x":-10.91,"y":4.63},{"x":-10.13,"y":3.84},{"x":-8.93,"y":3.52},{"x":-8.11,"y":3.14},{"x":-7.71,"y":2.2},{"x":-7.14,"y":1.09},{"x":-6.14,"y":0.71},{"x":-5.08,"y":1.3},{"x":-4.25,"y":2.05},{"x":-3.41,"y":2.16},{"x":-2.26,"y":1.87},{"x":-1.1,"y":2.01},{"x":-0.58,"y":2.97},{"x":-0.68,"y":4.21},{"x":-0.66,"y":5.14},{"x":0.03,"y":5.85},
      {"x":0.9,"y":6.75},{"x":0.98,"y":7.82},{"x":0.11,"y":8.64},{"x":-0.92,"y":9.15},{"x":-1.37,"y":9.86},{"x":-1.49,"y":11.03},{"x":-2.0,"y":12.09},{"x":-3.05,"y":12.32},{"x":-4.19,"y":11.8},{"x":-5.08,"y":11.45},{"x":-5.97,"y":11.8},{"x":-7.11,"y":12.32},{"x":-8.16,"y":12.09},{"x":-8.67,"y":11.03},{"x":-8.79,"y":9.86},{"x":-9.24,"y":9.15},{"x":-10.27,"y":8.64},{"x":-11.14,"y":7.82},{"x":-11.06,"y":6.75},{"x":-10.19,"y":5.85},{"x":-9.5,"y":5.14},{"x":-9.48,"y":4.21},{"x":-9.58,"y":2.97},{"x":-9.06,"y":2.01},{"x":-7.9,"y":1.87},{"x":-6.75,"y":2.16},{"x":-5.91,"y":2.05},{"x":-5.08,"y":1.3},{"x":-4.02,"y":0.71},{"x":-3.02,"y":1.09},{"x":-2.45,"y":2.2},{"x":-2.05,"y":3.14},{"x":-1.23,"y":3.52},{"x":-0.03,"y":3.84},{"x":0.75,"y":4.63},{"x":0.54,"y":5.76},{"x":-0.16,"y":6.75}],
    "cb": [{"x":23.07,"y":-10.16},{"x":22.54,"y":-10.13},{"x":20.99,"y":-9.83},{"x":18.63,"y":-8.98},{"x":15.76,"y":-7.41},{"x":12.74,"y":-5.09},{"x":9.93,"y":-2.12},{"x":7.61,"y":1.24},{"x":5.97,"y":4.68},{"x":5.03,"y":7.81},{"x":4.69,"y":10.3},{"x":4.72,"y":11.88},{"x":4.8,"y":12.41},{"x":4.61,"y":11.91},{"x":3.84,"y":10.52},{"x":2.31,"y":8.54},{"x":-0.07,"y":6.3},{"x":-3.21,"y":4.15},{"x":-6.9,"y":2.39},{"x":-10.82,"y":1.23},{"x":-14.59,"y":0.72},{"x":-17.87,"y":0.8},{"x":-20.33,"y":1.24},{"x":-21.83,"y":1.76},{"x":-22.3,"y":2.0},{"x":-21.89,"y":1.66},{"x":-20.81,"y":0.51},{"x":-19.4,"y":-1.57},{"x":-18.0,"y":-4.52},{"x":-16.92,"y":-8.18},{"x":-16.39,"y":-12.22},{"x":-16.5,"y":-16.31},{"x":-17.19,"y":-20.05},{"x":-18.27,"y":-23.14},{"x":-19.46,"y":-25.35},{"x":-20.4,"y":-26.61},{"x":-20.79,"y":-27.0},{"x":-20.33,"y":-26.7},{"x":-18.91,"y":-26.04},{"x":-16.49,"y":-25.33},{"x":-13.25,"y":-24.92},{"x":-9.44,"y":-25.02},{"x":-5.42,"y":-25.77},{"x":-1.57,"y":-27.13},{"x":1.78,"y":-28.94},{"x":4.37,"y":-30.92},{"x":6.11,"y":-32.74},{"x":7.01,"y":-34.03},{"x":7.26,"y":-34.51},{"x":7.12,"y":-33.99},{"x":6.93,"y":-32.42},{"x":7.01,"y":-29.92},{"x":7.61,"y":-26.7},{"x":8.89,"y":-23.12},{"x":10.84,"y":-19.52},{"x":13.33,"y":-16.28},{"x":16.09,"y":-13.65},{"x":18.78,"y":-11.79},{"x":21.04,"y":-10.7},{"x":22.54,"y":-10.24},{"x":23.07,"y":-10.16}],
    "cg": [{"x":22.31,"y":-9.36},{"x":21.05,"y":-5.32},{"x":18.12,"y":-2.03},{"x":13.9,"y":0.04},{"x":8.85,"y":0.53},{"x":3.59,"y":-0.69},{"x":-1.3,"y":-3.58},{"x":-5.24,"y":-7.88},{"x":-7.82,"y":-13.15},{"x":-8.75,"y":-18.82},{"x":-8.01,"y":-24.3},{"x":-5.73,"y":-28.98},{"x":-2.27,"y":-32.37},{"x":1.9,"y":-34.12},{"x":6.17,"y":-34.07},{"x":9.98,"y":-32.26},{"x":12.75,"y":-28.95},{"x":14.07,"y":-24.56},{"x":13.68,"y":-19.65},{"x":11.55,"y":-14.82},{"x":7.83,"y":-10.66},{"x":2.89,"y":-7.67},{"x":-2.79,"y":-6.19},{"x":-8.59,"y":-6.37},{"x":-13.92,"y":-8.18},{"x":-18.22,"y":-11.36},{"x":-21.05,"y":-15.48},{"x":-22.14,"y":-19.99},{"x":-21.45,"y":-24.3},{"x":-19.12,"y":-27.81},{"x":-15.5,"y":-30.04},{"x":-11.08,"y":-30.64},{"x":-6.45,"y":-29.47},{"x":-2.2,"y":-26.58},{"x":1.11,"y":-22.23},{"x":3.06,"y":-16.85},{"x":3.39,"y":-11.02},{"x":2.05,"y":-5.32},{"x":-0.8,"y":-0.37},{"x":-4.82,"y":3.34},{"x":-9.51,"y":5.45},{"x":-14.27,"y":5.81},{"x":-18.52,"y":4.44},{"x":-21.7,"y":1.62},{"x":-23.38,"y":-2.25},{"x":-23.31,"y":-6.6},{"x":-21.45,"y":-10.86},{"x":-17.95,"y":-14.42},{"x":-13.17,"y":-16.81},{"x":-7.6,"y":-17.66},{"x":-1.85,"y":-16.85},{"x":3.48,"y":-14.4},{"x":7.83,"y":-10.59},{"x":10.77,"y":-5.84},{"x":12.02,"y":-0.73},{"x":11.55,"y":4.18},{"x":9.49,"y":8.26},{"x":6.19,"y":11.05},{"x":2.13,"y":12.17},{"x":-2.09,"y":11.49},{"x":-5.9,"y":9.04},{"x":-8.72,"y":5.1},{"x":-10.15,"y":0.08},{"x":-9.92,"y":-5.43},{"x":-8.01,"y":-10.86},{"x":-4.56,"y":-15.59},{"x":0.06,"y":-19.14},{"x":5.38,"y":-21.14},{"x":10.77,"y":-21.45},{"x":15.66,"y":-20.08},{"x":19.47,"y":-17.31},{"x":21.78,"y":-13.55},{"x":22.31,"y":-9.36}],
    "cr": [{"x":6.19,"y":-6.0},{"x":5.29,"y":-5.23},{"x":4.04,"y":-4.94},{"x":2.61,"y":-5.19},{"x":1.2,"y":-6.01},{"x":-0.01,"y":-7.35},{"x":-0.88,"y":-9.08},{"x":-1.27,"y":-11.05},{"x":-1.15,"y":-13.07},{"x":-0.53,"y":-14.94},{"x":0.5,"y":-16.49},{"x":1.82,"y":-17.57},{"x":3.25,"y":-18.1},{"x":4.59,"y":-18.07},{"x":5.67,"y":-17.51},{"x":6.33,"y":-16.54},{"x":6.45,"y":-15.31},{"x":6.0,"y":-14.01},{"x":4.99,"y":-12.82},{"x":3.5,"y":-11.92},{"x":1.67,"y":-11.45},{"x":-0.31,"y":-11.47},{"x":-2.26,"y":-12.01},{"x":-3.99,"y":-13.03},{"x":-5.33,"y":-14.39},{"x":-6.17,"y":-15.95},{"x":-6.46,"y":-17.52},{"x":-6.21,"y":-18.92},{"x":-5.5,"y":-19.95},{"x":-4.46,"y":-20.49},{"x":-3.26,"y":-20.47},{"x":-2.1,"y":-19.86},{"x":-1.15,"y":-18.71},{"x":-0.57,"y":-17.14},{"x":-0.47,"y":-15.31},{"x":-0.9,"y":-13.41},{"x":-1.83,"y":-11.62},{"x":-3.19,"y":-10.13},{"x":-4.84,"y":-9.08},{"x":-6.59,"y":-8.55},{"x":-8.26,"y":-8.55},{"x":-9.67,"y":-9.05},{"x":-10.64,"y":-9.94},{"x":-11.07,"y":-11.05},{"x":-10.91,"y":-12.21},{"x":-10.19,"y":-13.24},{"x":-8.96,"y":-13.95},{"x":-7.38,"y":-14.21},{"x":-5.63,"y":-13.96},{"x":-3.89,"y":-13.17},{"x":-2.35,"y":-11.89},{"x":-1.17,"y":-10.24},{"x":-0.47,"y":-8.39},{"x":-0.3,"y":-6.51},{"x":-0.63,"y":-4.8},{"x":-1.4,"y":-3.44},{"x":-2.47,"y":-2.57},{"x":-3.67,"y":-2.27},{"x":-4.8,"y":-2.55},{"x":-5.69,"y":-3.37},{"x":-6.19,"y":-4.63},{"x":-6.17,"y":-6.15},{"x":-5.6,"y":-7.76},{"x":-4.51,"y":-9.26},{"x":-2.96,"y":-10.49},{"x":-1.1,"y":-11.29},{"x":0.88,"y":-11.59},{"x":2.8,"y":-11.38},{"x":4.47,"y":-10.69},{"x":5.73,"y":-9.64},{"x":6.45,"y":-8.39},{"x":6.6,"y":-7.11},{"x":6.19,"y":-6.0}],
    "dg": [{"x":24.5,"y":0.0},{"x":23.8,"y":5.5},{"x":21.7,"y":10.6},{"x":18.4,"y":15.1},{"x":14.1,"y":18.5},{"x":9.1,"y":20.7},{"x":3.8,"y":21.6},{"x":-1.6,"y":21.1},{"x":-6.6,"y":19.2},{"x":-11.0,"y":16.1},{"x":-14.3,"y":12.0},{"x":-16.4,"y":7.1},{"x":-17.2,"y":2.0},{"x":-16.6,"y":-3.2},{"x":-14.7,"y":-8.1},{"x":-11.5,"y":-12.2},{"x":-7.3,"y":-15.3},{"x":-2.5,"y":-17.3},{"x":2.8,"y":-17.8},{"x":8.0,"y":-17.0},{"x":12.8,"y":-14.9},{"x":16.9,"y":-11.5},{"x":20.1,"y":-7.1},{"x":22.0,"y":-2.0},
      {"x":22.6,"y":3.4},{"x":21.7,"y":8.8},{"x":19.5,"y":13.8},{"x":16.1,"y":18.2},{"x":11.6,"y":21.5},{"x":6.5,"y":23.6},{"x":1.0,"y":24.4},{"x":-4.5,"y":23.7},{"x":-9.6,"y":21.7},{"x":-14.1,"y":18.4},{"x":-17.5,"y":14.2},{"x":-19.7,"y":9.2},{"x":-20.6,"y":3.9},{"x":-20.1,"y":-1.4},{"x":-18.2,"y":-6.4},{"x":-15.1,"y":-10.7},{"x":-11.0,"y":-14.0},{"x":-6.2,"y":-16.1},{"x":-1.0,"y":-16.8},{"x":4.2,"y":-16.2},{"x":9.0,"y":-14.2},{"x":13.1,"y":-11.0},{"x":16.2,"y":-6.8},{"x":18.1,"y":-1.9},
      {"x":18.7,"y":3.4},{"x":17.8,"y":8.6},{"x":15.6,"y":13.5},{"x":12.2,"y":17.7},{"x":7.8,"y":20.8},{"x":2.7,"y":22.8},{"x":-2.8,"y":23.4},{"x":-8.2,"y":22.5},{"x":-13.3,"y":20.4},{"x":-17.7,"y":16.9},{"x":-21.0,"y":12.5},{"x":-23.2,"y":7.4},{"x":-24.0,"y":2.0},{"x":-23.4,"y":-3.5},{"x":-21.4,"y":-8.7},{"x":-18.2,"y":-13.1},{"x":-14.0,"y":-16.5},{"x":-9.1,"y":-18.7},{"x":-3.8,"y":-19.6},{"x":1.5,"y":-19.1},{"x":6.5,"y":-17.2},{"x":10.7,"y":-14.1},{"x":14.0,"y":-10.0},{"x":16.0,"y":-5.2},
      {"x":16.7,"y":0.0},{"x":16.0,"y":5.2},{"x":14.0,"y":10.0},{"x":10.7,"y":14.1},{"x":6.5,"y":17.2},{"x":1.5,"y":19.1},{"x":-3.8,"y":19.6},{"x":-9.1,"y":18.7},{"x":-14.0,"y":16.5},{"x":-18.2,"y":13.1},{"x":-21.4,"y":8.7},{"x":-23.4,"y":3.5},{"x":-24.0,"y":-2.0},{"x":-23.2,"y":-7.4},{"x":-21.0,"y":-12.5},{"x":-17.7,"y":-16.9},{"x":-13.3,"y":-20.4},{"x":-8.2,"y":-22.5},{"x":-2.8,"y":-23.4},{"x":2.7,"y":-22.8},{"x":7.8,"y":-20.8},{"x":12.2,"y":-17.7},{"x":15.6,"y":-13.5},{"x":17.8,"y":-8.6},
      {"x":18.7,"y":-3.4},{"x":18.1,"y":1.9},{"x":16.2,"y":6.8},{"x":13.1,"y":11.0},{"x":9.0,"y":14.2},{"x":4.2,"y":16.2},{"x":-1.0,"y":16.8},{"x":-6.2,"y":16.1},{"x":-11.0,"y":14.0},{"x":-15.1,"y":10.7},{"x":-18.2,"y":6.4},{"x":-20.1,"y":1.4},{"x":-20.6,"y":-3.9},{"x":-19.7,"y":-9.2},{"x":-17.5,"y":-14.2},{"x":-14.1,"y":-18.4},{"x":-9.6,"y":-21.7},{"x":-4.5,"y":-23.7},{"x":1.0,"y":-24.4},{"x":6.5,"y":-23.6},{"x":11.6,"y":-21.5},{"x":16.1,"y":-18.2},{"x":19.5,"y":-13.8},{"x":21.7,"y":-8.8},
      {"x":22.6,"y":-3.4},{"x":22.0,"y":2.0},{"x":20.1,"y":7.1},{"x":16.9,"y":11.5},{"x":12.8,"y":14.9},{"x":8.0,"y":17.0},{"x":2.8,"y":17.8},{"x":-2.5,"y":17.3},{"x":-7.3,"y":15.3},{"x":-11.5,"y":12.2},{"x":-14.7,"y":8.1},{"x":-16.6,"y":3.2},{"x":-17.2,"y":-2.0},{"x":-16.4,"y":-7.1},{"x":-14.3,"y":-12.0},{"x":-11.0,"y":-16.1},{"x":-6.6,"y":-19.2},{"x":-1.6,"y":-21.1},{"x":3.8,"y":-21.6},{"x":9.1,"y":-20.7},{"x":14.1,"y":-18.5},{"x":18.4,"y":-15.1},{"x":21.7,"y":-10.6},{"x":23.8,"y":-5.5},{"x":24.5,"y":0.0}],
    "dr": [{"x":24.24,"y":8.83},{"x":20.88,"y":8.39},{"x":11.9,"y":6.85},{"x":-0.47,"y":5.38},{"x":-12.9,"y":4.68},{"x":-22.02,"y":4.64},{"x":-25.41,"y":4.48},{"x":-22.28,"y":3.17},{"x":-13.72,"y":0.02},{"x":-2.28,"y":-4.9},{"x":8.83,"y":-10.5},{"x":16.75,"y":-15.03},{"x":19.76,"y":-16.59},{"x":17.71,"y":-13.89},{"x":11.87,"y":-6.87},{"x":4.42,"y":3.1},{"x":-2.4,"y":13.51},{"x":-7.0,"y":21.39},{"x":-8.83,"y":24.24},{"x":-8.39,"y":20.88},{"x":-6.85,"y":11.9},{"x":-5.38,"y":-0.47},{"x":-4.68,"y":-12.9},{"x":-4.64,"y":-22.02},{"x":-4.48,"y":-25.41},{"x":-3.17,"y":-22.28},{"x":-0.02,"y":-13.72},{"x":4.9,"y":-2.28},{"x":10.5,"y":8.83},{"x":15.03,"y":16.75},{"x":16.59,"y":19.76},{"x":13.89,"y":17.71},{"x":6.87,"y":11.87},{"x":-3.1,"y":4.42},{"x":-13.51,"y":-2.4},{"x":-21.39,"y":-7.0},{"x":-24.24,"y":-8.83},{"x":-20.88,"y":-8.39},{"x":-11.9,"y":-6.85},{"x":0.47,"y":-5.38},{"x":12.9,"y":-4.68},{"x":22.02,"y":-4.64},{"x":25.41,"y":-4.48},{"x":22.28,"y":-3.17},{"x":13.72,"y":-0.02},{"x":2.28,"y":4.9},{"x":-8.83,"y":10.5},{"x":-16.75,"y":15.03},{"x":-19.76,"y":16.59},{"x":-17.71,"y":13.89},{"x":-11.87,"y":6.87},{"x":-4.42,"y":-3.1},{"x":2.4,"y":-13.51},{"x":7.0,"y":-21.39},{"x":8.83,"y":-24.24},{"x":8.39,"y":-20.88},{"x":6.85,"y":-11.9},{"x":5.38,"y":0.47},{"x":4.68,"y":12.9},{"x":4.64,"y":22.02},{"x":4.48,"y":25.41},{"x":3.17,"y":22.28},{"x":0.02,"y":13.72},{"x":-4.9,"y":2.28},{"x":-10.5,"y":-8.83},{"x":-15.03,"y":-16.75},{"x":-16.59,"y":-19.76},{"x":-13.89,"y":-17.71},{"x":-6.87,"y":-11.87},{"x":3.1,"y":-4.42},{"x":13.51,"y":2.4},{"x":21.39,"y":7.0},{"x":24.24,"y":8.83}],
    "db": [{"x":9.66,"y":0.84},{"x":8.15,"y":2.15},{"x":4.37,"y":2.43},{"x":-0.48,"y":1.32},{"x":-4.91,"y":-0.95},{"x":-7.63,"y":-3.59},{"x":-7.95,"y":-5.56},{"x":-5.99,"y":-5.94},{"x":-2.57,"y":-4.29},{"x":1.07,"y":-0.9},{"x":3.78,"y":3.28},{"x":4.81,"y":6.93},{"x":4.1,"y":8.79},{"x":2.22,"y":8.14},{"x":0.09,"y":4.99},{"x":-1.38,"y":0.24},{"x":-1.63,"y":-4.73},{"x":-0.7,"y":-8.4},{"x":0.84,"y":-9.66},{"x":2.15,"y":-8.15},{"x":2.43,"y":-4.37},{"x":1.32,"y":0.48},{"x":-0.95,"y":4.91},{"x":-3.59,"y":7.63},{"x":-5.56,"y":7.95},{"x":-5.94,"y":5.99},{"x":-4.29,"y":2.57},{"x":-0.9,"y":-1.07},{"x":3.28,"y":-3.78},{"x":6.93,"y":-4.81},{"x":8.79,"y":-4.1},{"x":8.14,"y":-2.22},{"x":4.99,"y":-0.09},{"x":0.24,"y":1.38},{"x":-4.73,"y":1.63},{"x":-8.4,"y":0.7},{"x":-9.66,"y":-0.84},{"x":-8.15,"y":-2.15},{"x":-4.37,"y":-2.43},{"x":0.48,"y":-1.32},{"x":4.91,"y":0.95},{"x":7.63,"y":3.59},{"x":7.95,"y":5.56},{"x":5.99,"y":5.94},{"x":2.57,"y":4.29},{"x":-1.07,"y":0.9},{"x":-3.78,"y":-3.28},{"x":-4.81,"y":-6.93},{"x":-4.1,"y":-8.79},{"x":-2.22,"y":-8.14},{"x":-0.09,"y":-4.99},{"x":1.38,"y":-0.24},{"x":1.63,"y":4.73},{"x":0.7,"y":8.4},{"x":-0.84,"y":9.66},{"x":-2.15,"y":8.15},{"x":-2.43,"y":4.37},{"x":-1.32,"y":-0.48},{"x":0.95,"y":-4.91},{"x":3.59,"y":-7.63},{"x":5.56,"y":-7.95},{"x":5.94,"y":-5.99},{"x":4.29,"y":-2.57},{"x":0.9,"y":1.07},{"x":-3.28,"y":3.78},{"x":-6.93,"y":4.81},{"x":-8.79,"y":4.1},{"x":-8.14,"y":2.22},{"x":-4.99,"y":0.09},{"x":-0.24,"y":-1.38},{"x":4.73,"y":-1.63},{"x":8.4,"y":-0.7},{"x":9.66,"y":0.84}]
  },
  "columns": 2,
  "bounds": "flush",
  "spacing": {"row": 90, "column": 102},
  "concat": [
    {
      "width": 347, "height": 274,
      "title": {"text": "(a)", "dx": -71, "dy": 18},
      "layer": [
        {"data": {"name": "ag"}, "mark": {"type": "line", "color": "#1e8a1e", "strokeWidth": 1.2},
         "encoding": {
           "x": {"field": "x", "type": "quantitative", "scale": {"domain": [-16.9, 30.7], "nice": false, "zero": false}, "axis": {"values": [-15,-10,-5,0,5,10,15,20,25,30], "title": "x", "titleX": 173.5, "titleY": 51}},
           "y": {"field": "y", "type": "quantitative", "scale": {"domain": [-24, 13.7], "nice": false, "zero": false}, "axis": {"values": [-20,-15,-10,-5,0,5,10], "title": "y", "titleX": -62.5, "titleY": 137}},
           "detail": {"field": "c", "type": "nominal"},
           "order": {"value": null}}},
        {"data": {"name": "ab"}, "mark": {"type": "line", "color": "#2d3f9e"},
         "encoding": {
           "x": {"field": "x", "type": "quantitative", "axis": {"orient": "top", "values": [-15,-10,-5,0,5,10,15,20,25,30], "labels": false, "title": null}},
           "y": {"field": "y", "type": "quantitative", "axis": {"orient": "right", "values": [-20,-15,-10,-5,0,5,10], "labels": false, "title": null}},
           "detail": {"field": "c", "type": "nominal"},
           "order": {"value": null}}},
        {"data": {"name": "ar"}, "mark": {"type": "line", "color": "#e5302a"},
         "encoding": {
           "x": {"field": "x", "type": "quantitative", "axis": null},
           "y": {"field": "y", "type": "quantitative", "axis": null},
           "order": {"value": null}}}
      ],
      "resolve": {"axis": {"x": "independent", "y": "independent"}}
    },
    {
      "width": 347, "height": 274,
      "title": {"text": "(b)", "dx": -72, "dy": 18},
      "layer": [
        {"data": {"name": "bb"}, "mark": {"type": "line", "color": "#2d3f9e"},
         "encoding": {
           "x": {"field": "x", "type": "quantitative", "scale": {"domain": [-21.87, 11.75], "nice": false, "zero": false}, "axis": {"values": [-20,-15,-10,-5,0,5,10], "title": "x", "titleX": 173.5, "titleY": 51}},
           "y": {"field": "y", "type": "quantitative", "scale": {"domain": [-6.55, 20.03], "nice": false, "zero": false}, "axis": {"values": [-5,0,5,10,15,20], "title": "y", "titleX": -60, "titleY": 137}},
           "order": {"value": null}}},
        {"data": {"name": "bg"}, "mark": {"type": "line", "color": "#1e8a1e"},
         "encoding": {
           "x": {"field": "x", "type": "quantitative", "axis": {"orient": "top", "values": [-20,-15,-10,-5,0,5,10], "labels": false, "title": null}},
           "y": {"field": "y", "type": "quantitative", "axis": {"orient": "right", "values": [-5,0,5,10,15,20], "labels": false, "title": null}},
           "order": {"value": null}}},
        {"data": {"name": "br"}, "mark": {"type": "line", "color": "#e5302a"},
         "encoding": {
           "x": {"field": "x", "type": "quantitative", "axis": null},
           "y": {"field": "y", "type": "quantitative", "axis": null},
           "order": {"value": null}}}
      ],
      "resolve": {"axis": {"x": "independent", "y": "independent"}}
    },
    {
      "width": 347, "height": 273,
      "title": {"text": "(c)", "dx": -71, "dy": 19},
      "layer": [
        {"data": {"name": "cb"}, "mark": {"type": "line", "color": "#2d3f9e"},
         "encoding": {
           "x": {"field": "x", "type": "quantitative", "scale": {"domain": [-29.55, 30.1], "nice": false, "zero": false}, "axis": {"values": [-20,-10,0,10,20,30], "title": "x", "titleX": 173.5, "titleY": 50}},
           "y": {"field": "y", "type": "quantitative", "scale": {"domain": [-34.6, 12.2], "nice": false, "zero": false}, "axis": {"values": [-30,-25,-20,-15,-10,-5,0,5,10], "title": "y", "titleX": -62.5, "titleY": 136.5}},
           "order": {"value": null}}},
        {"data": {"name": "cg"}, "mark": {"type": "line", "color": "#1e8a1e", "strokeWidth": 1.4},
         "encoding": {
           "x": {"field": "x", "type": "quantitative", "axis": {"orient": "top", "values": [-20,-10,0,10,20,30], "labels": false, "title": null}},
           "y": {"field": "y", "type": "quantitative", "axis": {"orient": "right", "values": [-30,-25,-20,-15,-10,-5,0,5,10], "labels": false, "title": null}},
           "order": {"value": null}}},
        {"data": {"name": "cr"}, "mark": {"type": "line", "color": "#e5302a", "strokeWidth": 1.4},
         "encoding": {
           "x": {"field": "x", "type": "quantitative", "axis": null},
           "y": {"field": "y", "type": "quantitative", "axis": null},
           "order": {"value": null}}}
      ],
      "resolve": {"axis": {"x": "independent", "y": "independent"}}
    },
    {
      "width": 345, "height": 273,
      "title": {"text": "(d)", "dx": -70, "dy": 19},
      "layer": [
        {"data": {"name": "dg"}, "mark": {"type": "line", "color": "#1e8a1e", "strokeWidth": 1.1},
         "encoding": {
           "x": {"field": "x", "type": "quantitative", "scale": {"domain": [-32.84, 32.4], "nice": false, "zero": false}, "axis": {"values": [-30,-20,-10,0,10,20,30], "title": "x", "titleX": 172.5, "titleY": 50}},
           "y": {"field": "y", "type": "quantitative", "scale": {"domain": [-25.2, 25.86], "nice": false, "zero": false}, "axis": {"values": [-25,-20,-15,-10,-5,0,5,10,15,20,25], "title": "y", "titleX": -55, "titleY": 136.5}},
           "order": {"value": null}}},
        {"data": {"name": "db"}, "mark": {"type": "line", "color": "#2d3f9e", "strokeWidth": 1.1},
         "encoding": {
           "x": {"field": "x", "type": "quantitative", "axis": {"orient": "top", "values": [-30,-20,-10,0,10,20,30], "labels": false, "title": null}},
           "y": {"field": "y", "type": "quantitative", "axis": {"orient": "right", "values": [-25,-20,-15,-10,-5,0,5,10,15,20,25], "labels": false, "title": null}},
           "order": {"value": null}}},
        {"data": {"name": "dr"}, "mark": {"type": "line", "color": "#e5302a", "strokeWidth": 1.1},
         "encoding": {
           "x": {"field": "x", "type": "quantitative", "axis": null},
           "y": {"field": "y", "type": "quantitative", "axis": null},
           "order": {"value": null}}}
      ],
      "resolve": {"axis": {"x": "independent", "y": "independent"}}
    }
  ]
}
